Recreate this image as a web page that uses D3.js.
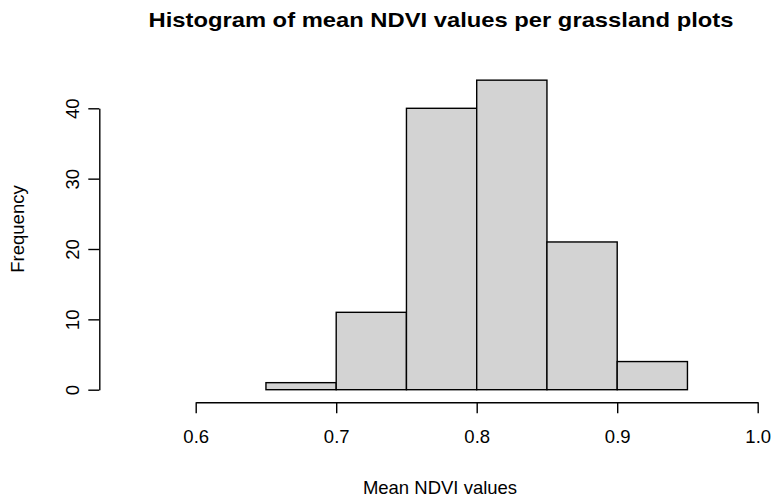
<!DOCTYPE html>
<html><head><meta charset="utf-8">
<script src="https://cdn.jsdelivr.net/npm/d3@7"></script>
<style>body{margin:0;background:#fff}svg{display:block}text{font-family:"Liberation Sans",Arial,sans-serif;fill:#000}</style>
</head><body><svg id="c" width="772" height="497"></svg>
<script>
const breaks = [0.65, 0.70, 0.75, 0.80, 0.85, 0.90, 0.95];
const counts = [1, 11, 40, 44, 21, 4];
const xTicks = [0.6, 0.7, 0.8, 0.9, 1.0];
const yTicks = [0, 10, 20, 30, 40];
const title = "Histogram of mean NDVI values per grassland plots";
const xLabel = "Mean NDVI values";
const yLabel = "Frequency";

const svg = d3.select("#c");
const x = d3.scaleLinear().domain([0.6, 1.0]).range([195.7, 757.7]);
const y = d3.scaleLinear().domain([0, 40]).range([389.7, 108.3]);

const bins = counts.map((c, i) => ({x0: breaks[i], x1: breaks[i + 1], c}));
svg.append("g").selectAll("rect").data(bins).join("rect")
  .attr("x", d => x(d.x0)).attr("width", d => x(d.x1) - x(d.x0))
  .attr("y", d => y(d.c)).attr("height", d => y(0) - y(d.c))
  .attr("fill", "#d3d3d3").attr("stroke", "#000").attr("stroke-width", 1.4);

// x axis
const xa = svg.append("g").attr("transform", "translate(0,402.3)")
  .call(d3.axisBottom(x).tickValues(xTicks).tickFormat(d3.format(".1f")).tickSize(11).tickSizeOuter(0).tickPadding(17));
xa.select(".domain").attr("stroke-width", 1.4);
xa.selectAll(".tick line").attr("stroke-width", 1.4);
xa.selectAll("text").attr("font-size", 18.5).attr("font-family", '"Liberation Sans",Arial,sans-serif');

// y axis
const ya = svg.append("g").attr("transform", "translate(99.3,0)")
  .call(d3.axisLeft(y).tickValues(yTicks).tickSize(11).tickSizeOuter(0));
ya.select(".domain").attr("stroke-width", 1.4);
ya.selectAll(".tick line").attr("stroke-width", 1.4);
ya.selectAll(".tick text")
  .attr("font-size", 18.5).attr("font-family", '"Liberation Sans",Arial,sans-serif')
  .attr("x", null).attr("dy", null)
  .attr("text-anchor", "middle")
  .attr("transform", "translate(-27,0) rotate(-90)")
  .attr("y", 0).attr("dominant-baseline", "central");

svg.append("text").attr("x", 441).attr("y", 27).attr("text-anchor", "middle")
  .attr("font-size", 20.5).attr("font-weight", "bold")
  .attr("textLength", 585).attr("lengthAdjust", "spacingAndGlyphs").text(title);
svg.append("text").attr("x", 440).attr("y", 494).attr("text-anchor", "middle")
  .attr("font-size", 18.5).text(xLabel);
svg.append("text").attr("transform", "translate(24,229) rotate(-90)").attr("text-anchor", "middle")
  .attr("font-size", 18.5).text(yLabel);
</script></body></html>
